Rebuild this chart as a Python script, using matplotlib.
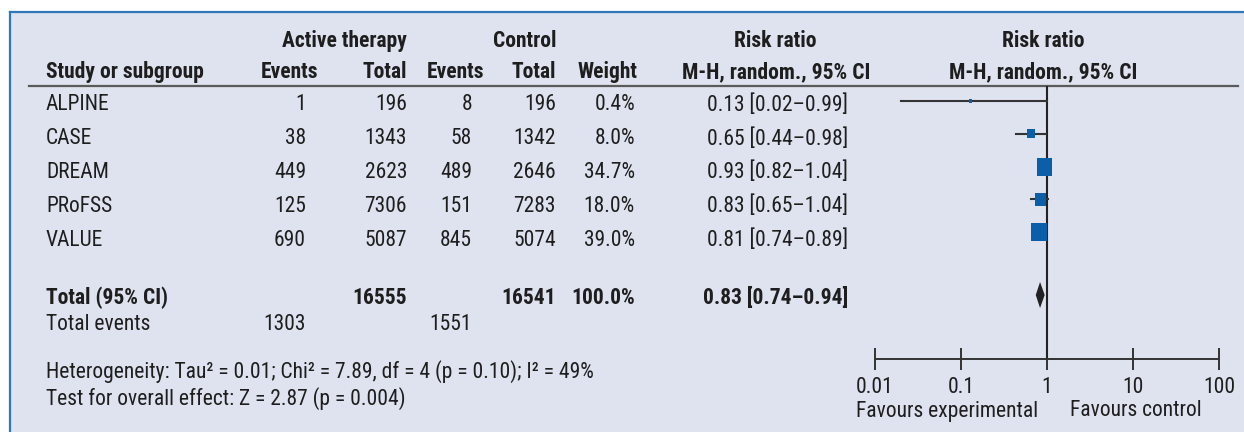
import matplotlib
matplotlib.use("Agg")
import matplotlib.pyplot as plt
from matplotlib import font_manager
from matplotlib.patches import Rectangle, Polygon
from matplotlib.ticker import NullLocator

# data
studies = ['ALPINE', 'CASE', 'DREAM', 'PRoFSS', 'VALUE']
act_events = [1, 38, 449, 125, 690]
act_total = [196, 1343, 2623, 7306, 5087]
ctl_events = [8, 58, 489, 151, 845]
ctl_total = [196, 1342, 2646, 7283, 5074]
weight = [0.4, 8.0, 34.7, 18.0, 39.0]
rr = [0.13, 0.65, 0.93, 0.83, 0.81]
rr_lo = [0.02, 0.44, 0.82, 0.65, 0.74]
rr_hi = [0.99, 0.98, 1.04, 1.04, 0.89]

tot_act_total = 16555
tot_ctl_total = 16541
tot_weight = 100.0
tot_act_events = 1303
tot_ctl_events = 1551
tot_rr, tot_lo, tot_hi = 0.83, 0.74, 0.94

ticks = [0.01, 0.1, 1, 10, 100]
tick_labels = ['0.01', '0.1', '1', '10', '100']

heterogeneity = 'Heterogeneity: Tau² = 0.01; Chi² = 7.89, df = 4 (p = 0.10); I² = 49%'
overall = 'Test for overall effect: Z = 2.87 (p = 0.004)'

# pick a narrow font if there is one
names = {f.name for f in font_manager.fontManager.ttflist}
family = 'Liberation Sans'
stretch = 'normal'
for cand in ['Liberation Sans Narrow', 'Roboto Condensed', 'Open Sans Condensed', 'Arial Narrow']:
    if cand in names:
        family = cand
        break
else:
    for f in font_manager.fontManager.ttflist:
        if f.name in ('Noto Sans', 'DejaVu Sans', 'Open Sans') and f.stretch == 'condensed':
            family, stretch = f.name, 'condensed'
            break
plt.rcParams['font.family'] = [family, 'DejaVu Sans']
plt.rcParams['font.stretch'] = stretch

bg = '#dee3ef'
txt = '#1e1e1e'
blue = '#0b5ea8'
fs = 15.5

fig = plt.figure(figsize=(12.44, 4.32), dpi=100)
ax = fig.add_axes([0, 0, 1, 1])
ax.set_xlim(0, 1244)
ax.set_ylim(432, 0)
ax.axis('off')

ax.add_patch(Rectangle((10, 11), 1234, 421, facecolor=bg, edgecolor='none'))
ax.plot([10, 10], [432, 11.5], color='#2f78b8', lw=1.6)
ax.plot([10, 1244], [11.5, 11.5], color='#2f78b8', lw=1.6)

def t(x, y, s, ha='right', bold=False):
    ax.text(x, y + 2, s, ha=ha, va='center', fontsize=fs, color=txt,
            fontweight='bold' if bold else 'normal')

# headers
t(407, 39, 'Active therapy', bold=True)
t(557, 39, 'Control', bold=True)
t(775, 39, 'Risk ratio', ha='center', bold=True)
t(1043, 39, 'Risk ratio', ha='center', bold=True)
hy = 70
t(46, hy, 'Study or subgroup', ha='left', bold=True)
t(318, hy, 'Events', bold=True)
t(407, hy, 'Total', bold=True)
t(484, hy, 'Events', bold=True)
t(556, hy, 'Total', bold=True)
t(638, hy, 'Weight', bold=True)
t(870, hy, 'M-H, random., 95% CI', bold=True)
t(1043, hy, 'M-H, random., 95% CI', ha='center', bold=True)
ax.plot([29, 1238], [86, 86], color='#5a5a5a', lw=1.6)

row_y = [103 + 33.8 * i for i in range(len(studies))]
for i, y in enumerate(row_y):
    t(46, y, studies[i], ha='left')
    t(306, y, str(act_events[i]))
    t(407, y, str(act_total[i]))
    t(472, y, str(ctl_events[i]))
    t(556, y, str(ctl_total[i]))
    t(635, y, f'{weight[i]:.1f}%')
    t(848, y, f'{rr[i]:.2f} [{rr_lo[i]:.2f}–{rr_hi[i]:.2f}]')

t(46, 296, 'Total (95% CI)', ha='left', bold=True)
t(407, 296, str(tot_act_total), bold=True)
t(556, 296, str(tot_ctl_total), bold=True)
t(635, 296, f'{tot_weight:.1f}%', bold=True)
t(848, 296, f'{tot_rr:.2f} [{tot_lo:.2f}–{tot_hi:.2f}]', bold=True)
t(46, 322, 'Total events', ha='left')
t(306, 322, str(tot_act_events))
t(472, 322, str(tot_ctl_events))
t(46, 370, heterogeneity, ha='left')
t(46, 397, overall, ha='left')

# forest plot
x0, x1 = 875, 1219
fx = fig.add_axes([x0 / 1244, 0, (x1 - x0) / 1244, 1])
fx.set_xscale('log')
fx.set_xlim(ticks[0], ticks[-1])
fx.set_ylim(432, 0)
fx.patch.set_visible(False)
for s in ['top', 'left', 'right']:
    fx.spines[s].set_visible(False)
fx.spines['bottom'].set_position(('data', 359))
fx.spines['bottom'].set_color('#333333')
fx.spines['bottom'].set_linewidth(1.4)
fx.set_yticks([])
fx.set_xticks(ticks, labels=tick_labels)
fx.xaxis.set_minor_locator(NullLocator())
fx.tick_params(axis='x', direction='inout', length=16, width=1.4, color='#333333',
               pad=5, labelsize=fs, labelcolor=txt)

fx.vlines(1, 86, 359, color='#222222', lw=1.5)

px_per_dec = (x1 - x0) / 4
for i, y in enumerate(row_y):
    ym = y - 2 - i
    fx.plot([rr_lo[i], rr_hi[i]], [ym, ym], color='#333333', lw=1.5)
    side = max(2.6 * weight[i] ** 0.5, 3)
    h = min(side * 1.2, 18)
    a = rr[i] * 10 ** (-side / 2 / px_per_dec)
    b = rr[i] * 10 ** (side / 2 / px_per_dec)
    fx.add_patch(Rectangle((a, ym - h / 2), b - a, h, facecolor=blue, edgecolor='none', zorder=3))

fx.add_patch(Polygon([(tot_lo, 295), (tot_rr, 282), (tot_hi, 295), (tot_rr, 308)],
                     closed=True, facecolor='#222222', edgecolor='none', zorder=3))

ax.text(1038, 411, 'Favours experimental', ha='right', va='center', fontsize=fs, color=txt)
ax.text(1070, 411, 'Favours control', ha='left', va='center', fontsize=fs, color=txt)

fig.savefig('out.png', dpi=100)
